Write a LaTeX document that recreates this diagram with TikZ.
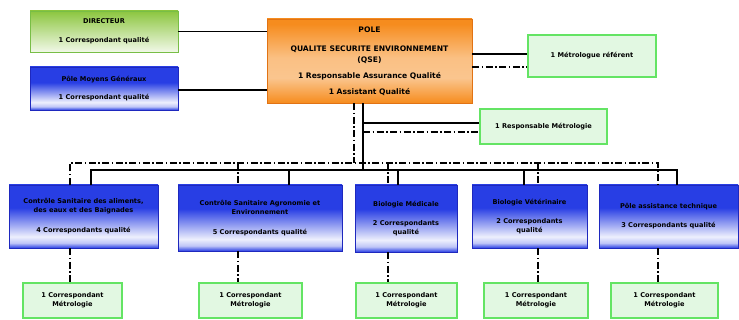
\documentclass[tikz,border=0pt]{standalone}
\usepackage{fontspec}
\setmainfont{DejaVu Sans}
\usepackage{tikz}
\usetikzlibrary{calc}
\usetikzlibrary{positioning}

\definecolor{bxblue}{RGB}{40,62,228}
\definecolor{bxblueline}{RGB}{30,40,190}
\definecolor{bxorange}{RGB}{246,140,30}
\definecolor{bxorangeline}{RGB}{225,115,20}
\definecolor{bxgreen}{RGB}{140,198,63}
\definecolor{bxgreenline}{RGB}{120,190,70}
\definecolor{lgline}{RGB}{100,228,100}
\definecolor{lgfill}{RGB}{226,248,226}

\pgfdeclareverticalshading{bluebox}{100bp}{color(0bp)=(bxblue); color(25bp)=(bxblue);
  color(29bp)=(bxblue!30!white); color(34bp)=(bxblue!8!white); color(57bp)=(bxblue);
  color(100bp)=(bxblue)}
\pgfdeclareverticalshading{orangebox}{100bp}{color(0bp)=(bxorange); color(25bp)=(bxorange);
  color(40bp)=(bxorange!50!white); color(52bp)=(bxorange!55!white); color(72bp)=(bxorange);
  color(100bp)=(bxorange)}

\newcommand{\boxfont}{\fontsize{6.6}{8}\selectfont\bfseries}
\newcommand{\qsefont}{\fontsize{7.6}{9.5}\selectfont\bfseries}

\begin{document}
\begin{tikzpicture}[x=1pt, y=-1pt]
\tikzset{
  pole/.style={draw=bxblueline, line width=0.8pt, shading=bluebox, inner sep=0pt,
    align=center, font=\boxfont, text=black},
  qsebox/.style={draw=bxorangeline, line width=0.8pt, shading=orangebox, inner sep=0pt,
    align=center, font=\qsefont, text=black},
  dirbox/.style={draw=bxgreenline, line width=0.8pt, top color=bxgreen, bottom color=bxgreen!12!white,
    inner sep=0pt, align=center, font=\boxfont},
  metro/.style={draw=lgline, line width=1.1pt, top color=lgfill, middle color=white,
    bottom color=lgfill, inner sep=0pt, align=center, font=\boxfont},
  solidln/.style={draw=black, line width=1.1pt},
  dashln/.style={draw=black, line width=1.2pt, dash pattern=on 7pt off 2.5pt on 1.5pt off 2.5pt},
}
\useasboundingbox (0,0) rectangle (739,320);

% top row
\node [qsebox, minimum width=205pt, minimum height=84pt] (qse) at (369.5,61)
  {POLE\\[9.5pt]QUALITE SECURITE ENVIRONNEMENT\\[1.5pt](QSE)\\[6.5pt]1 Responsable Assurance Qualité\\[6.5pt]1 Assistant Qualité};
\node [dirbox, minimum width=148pt, minimum height=41pt] (dir) at (104,31.5)
  {DIRECTEUR\\[11pt]1 Correspondant qualité};
\node [pole, minimum width=148pt, minimum height=43pt] (pmg) at (104,88.5)
  {Pôle Moyens Généraux\\[10pt]1 Correspondant qualité};
\node [metro, minimum width=128pt, minimum height=42pt] (mref) at (592,56)
  {1 Métrologue référent};
\node [metro, minimum width=127pt, minimum height=35pt] (rmet) at (543.5,126.5)
  {1 Responsable Métrologie};

% poles
\node [pole, minimum width=149pt, minimum height=63pt] (csa) at (83.5,216.5)
  {Contrôle Sanitaire des aliments,\\[1pt]des eaux et des Baignades\\[12pt]4 Correspondants qualité};
\node [pole, minimum width=164pt, minimum height=66pt] (csae) at (260,218)
  {Contrôle Sanitaire Agronomie et\\[1pt]Environnement\\[12pt]5 Correspondants qualité};
\node [pole, minimum width=102pt, minimum height=67pt] (bmed) at (406,218.5)
  {Biologie Médicale\\[11pt]2 Correspondants\\[1pt]qualité};
\node [pole, minimum width=115pt, minimum height=63pt] (bvet) at (529.5,216.5)
  {Biologie Vétérinaire\\[11pt]2 Correspondants\\[1pt]qualité};
\node [pole, minimum width=139pt, minimum height=63pt] (pat) at (668.5,216.5)
  {Pôle assistance technique\\[11pt]3 Correspondants qualité};

% correspondants metrologie
\node [metro, minimum width=99pt, minimum height=35pt] (m1) at (72.5,300.5)
  {1 Correspondant\\[1pt]Métrologie};
\node [metro, minimum width=103pt, minimum height=35pt] (m2) at (250.5,300.5)
  {1 Correspondant\\[1pt]Métrologie};
\node [metro, minimum width=101pt, minimum height=35pt] (m3) at (406.5,300.5)
  {1 Correspondant\\[1pt]Métrologie};
\node [metro, minimum width=104pt, minimum height=35pt] (m4) at (536,300.5)
  {1 Correspondant\\[1pt]Métrologie};
\node [metro, minimum width=107pt, minimum height=35pt] (m5) at (664.5,300.5)
  {1 Correspondant\\[1pt]Métrologie};

% helper points
\coordinate (sbus) at (0,170);
\coordinate (dbus) at (0,163);
\coordinate (sp) at ([xshift=-6.5pt]qse.south);
\coordinate (dp) at ([xshift=-15.5pt]qse.south);
\coordinate (rmS) at ([yshift=3.5pt]rmet.west);
\coordinate (rmD) at ([yshift=-5.5pt]rmet.west);
\coordinate (mrS) at ([yshift=2pt]mref.west);
\coordinate (mrD) at ([yshift=-11pt]mref.west);

\coordinate (s1) at ([xshift=7.5pt]csa.north);
\coordinate (s2) at ([xshift=29pt]csae.north);
\coordinate (s3) at ([xshift=-8pt]bmed.north);
\coordinate (s4) at ([xshift=-5.5pt]bvet.north);
\coordinate (s5) at ([xshift=8.5pt]pat.north);
\coordinate (d1) at ([xshift=-13.5pt]csa.north);
\coordinate (d2) at ([xshift=-22pt]csae.north);
\coordinate (d3) at ([xshift=-18pt]bmed.north);
\coordinate (d4) at ([xshift=8.5pt]bvet.north);
\coordinate (d5) at ([xshift=-10.5pt]pat.north);

% links to the left
\draw[solidln] (dir.east) -- (dir.east -| qse.west);
\draw[solidln] ([yshift=-1.5pt]pmg.east) -- ([yshift=-1.5pt]pmg.east -| qse.west);

% links to the right
\draw[solidln] (qse.east |- mrS) -- (mrS);
\draw[dashln] (qse.east |- mrD) -- (mrD);
\draw[solidln] (sp) -- (sp |- sbus);
\draw[solidln] (sp |- rmS) -- (rmS);
\draw[dashln] (sp |- rmD) -- (rmD);
\draw[dashln] (dp) -- (dp |- dbus);

% solid bus
\draw[solidln] (s1) -- (s1 |- sbus) -- (s5 |- sbus) -- (s5);
\draw[solidln] (s2 |- sbus) -- (s2);
\draw[solidln] (s3 |- sbus) -- (s3);
\draw[solidln] (s4 |- sbus) -- (s4);

% dash dot bus
\draw[dashln] (d1) -- (d1 |- dbus) -- (d5 |- dbus) -- (d5);
\draw[dashln] (d2 |- dbus) -- (d2);
\draw[dashln] (d3 |- dbus) -- (d3);
\draw[dashln] (d4 |- dbus) -- (d4);

% down to metrologie
\draw[dashln] ([xshift=-13.5pt]csa.south) -- ([xshift=-13.5pt]csa.south |- m1.north);
\draw[dashln] ([xshift=-22pt]csae.south) -- ([xshift=-22pt]csae.south |- m2.north);
\draw[dashln] ([xshift=-18pt]bmed.south) -- ([xshift=-18pt]bmed.south |- m3.north);
\draw[dashln] ([xshift=8.5pt]bvet.south) -- ([xshift=8.5pt]bvet.south |- m4.north);
\draw[dashln] ([xshift=-10.5pt]pat.south) -- ([xshift=-10.5pt]pat.south |- m5.north);

\end{tikzpicture}
\end{document}
